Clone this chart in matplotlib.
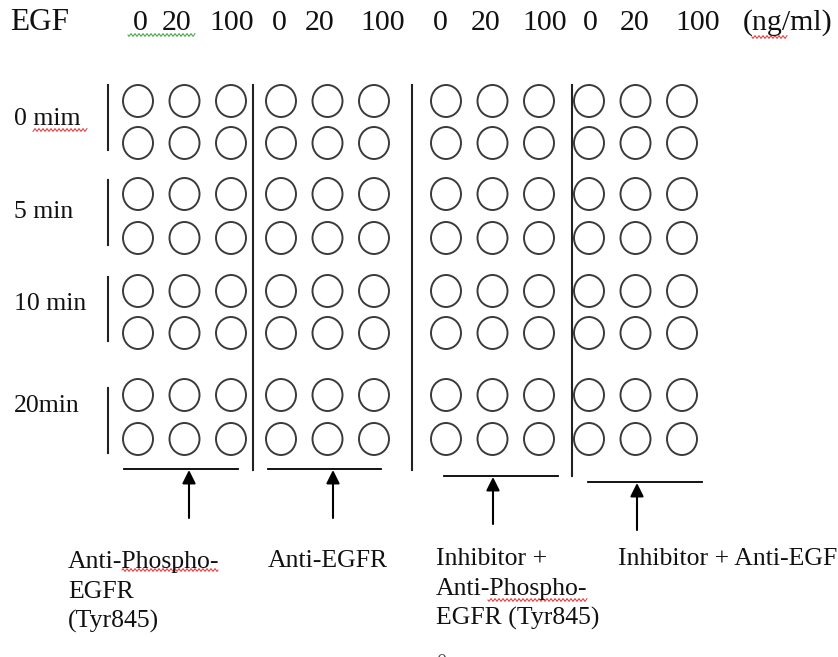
import numpy as np
import matplotlib.pyplot as plt
from matplotlib.patches import Ellipse

# plate layout: 4 antibody groups x 3 EGF doses, 4 time points x 2 replicate rows
egf_doses = ["0", "20", "100"]
egf_unit = "(ng/ml)"
time_points = ["0 mim", "5 min", "10 min", "20min"]
antibodies = ["Anti-Phospho-\nEGFR\n(Tyr845)", "Anti-EGFR",
              "Inhibitor +\nAnti-Phospho-\nEGFR (Tyr845)", "Inhibitor + Anti-EGFR"]
n_replicates = 2

# layout in pixel coords (figure is 838 x 657)
W, H = 838, 657
group_x0 = [138, 281, 446, 589]
well_dx = 46.5
row_y = [[101, 143], [194, 238], [291, 333], [395, 439]]
well_w, well_h = 30, 32
header_x = [133, 162, 209, 272, 305, 360, 433, 471, 522, 583, 620, 675]
header_base = 30
time_base = [125, 218, 310, 412]
time_bar = [(85, 150), (180, 245), (277, 341), (388, 453)]
divider_x = [253, 412, 572]
divider_y = [(85, 470), (85, 470), (85, 476)]
bracket = [(124, 238, 469), (268, 381, 469), (444, 558, 476), (588, 702, 482)]
arrow_x = [189, 333, 493, 637]
arrow_bottom = [518, 518, 524, 530]
label_x = [68, 268, 436, 618]
label_base = [568, 567, 565, 565]
line_gap = 30

plt.rcParams['font.family'] = ['Liberation Serif', 'DejaVu Serif']
fig = plt.figure(figsize=(W / 100, H / 100), dpi=100)
ax = fig.add_axes([0, 0, 1, 1])
ax.set_xlim(0, W)
ax.set_ylim(H, 0)
ax.axis('off')

lw = 1.5
head_fs = 21.5
body_fs = 18.5
ink = '#111111'

# header
ax.text(10, header_base, "EGF", fontsize=22.5, ha='left', va='baseline', color=ink)
header_tokens = egf_doses * len(antibodies)
for x, tok in zip(header_x, header_tokens):
    ax.text(x, header_base, tok, fontsize=head_fs, ha='left', va='baseline', color=ink)
ax.text(743, header_base, egf_unit, fontsize=head_fs, ha='left', va='baseline', color=ink)

# wells
for g, x0 in enumerate(group_x0):
    for d in range(len(egf_doses)):
        cx = x0 + d * well_dx
        for t in range(len(time_points)):
            for r in range(n_replicates):
                ax.add_patch(Ellipse((cx, row_y[t][r]), well_w, well_h, fill=False,
                                     edgecolor='#3a3a3a', lw=1.4))

# time labels and their bars
for t, lab in enumerate(time_points):
    ax.text(14, time_base[t], lab, fontsize=body_fs, ha='left', va='baseline', color=ink)
    ax.plot([108, 108], time_bar[t], color='#222222', lw=lw)

# group dividers
for x, (y0, y1) in zip(divider_x, divider_y):
    ax.plot([x, x], [y0, y1], color='#222222', lw=lw)

# brackets, arrows, antibody labels
for g, lab in enumerate(antibodies):
    x0, x1, y = bracket[g]
    ax.plot([x0, x1], [y, y], color='black', lw=1.3)
    ax.annotate("", xy=(arrow_x[g], y + 1), xytext=(arrow_x[g], arrow_bottom[g]),
                arrowprops=dict(arrowstyle='-|>', color='black', lw=1.5,
                                mutation_scale=20, shrinkA=0, shrinkB=0))
    for i, line in enumerate(lab.split("\n")):
        ax.text(label_x[g], label_base[g] + i * line_gap, line, fontsize=body_fs,
                ha='left', va='baseline', color=ink)

ax.text(436, 668, "0", fontsize=body_fs * 0.8, ha='left', va='baseline', color='#555555')


# spell-check squiggles
def squiggle(x0, x1, y, color):
    xs = np.linspace(x0, x1, int((x1 - x0) * 2))
    ax.plot(xs, y + 1.3 * np.sin(xs * np.pi / 2), color=color, lw=0.7)


squiggle(128, 195, 35, '#3aa03a')
squiggle(752, 787, 37, '#e03030')
squiggle(33, 87, 130, '#e03030')
squiggle(122, 218, 570, '#e03030')
squiggle(488, 587, 600, '#e03030')

fig.savefig("out.png", dpi=100)
